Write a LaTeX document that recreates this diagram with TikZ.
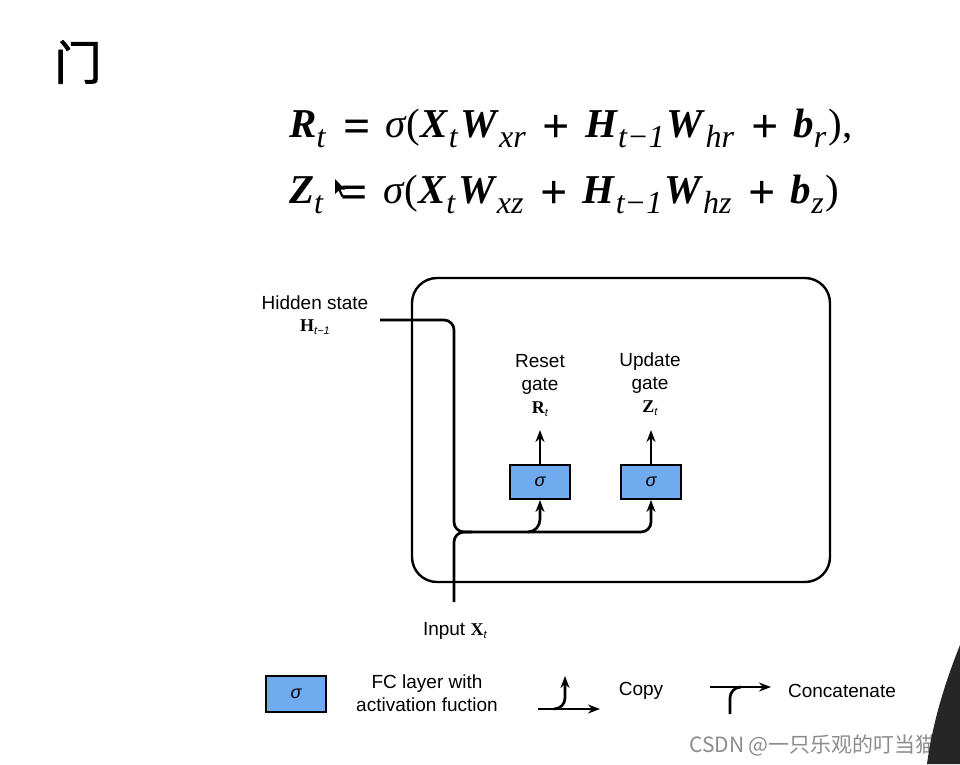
\documentclass[tikz,border=0pt]{standalone}
\usepackage{fontspec}
\setmainfont{Liberation Sans}
\newfontfamily\serif{Liberation Serif}
\newfontfamily\cjk{Noto Sans CJK SC}
\newfontfamily\cjkb[FakeBold=1.6]{Noto Sans CJK SC}
\usetikzlibrary{arrows.meta}
\definecolor{gateblue}{HTML}{70ABEF}
\newcommand\bv[1]{\textbf{\textit{#1}}}
\newcommand\sbs[1]{\raisebox{-10pt}{\fontsize{32}{32}\selectfont\textit{#1}}\hspace{2pt}}
\newcommand\op[1]{\hspace{15pt}\raisebox{-5pt}{\fontsize{48}{48}\selectfont\textbf{#1}}\hspace{15pt}}
\newcommand\dsub[1]{\raisebox{-3pt}{\fontsize{11}{11}\selectfont\textit{#1}}}
\begin{document}
\begin{tikzpicture}[x=1pt,y=-1pt,
  wire/.style={line width=2.7pt,rounded corners=10pt},
  tip/.style={-{Stealth[length=12pt,width=9pt]}},
  gatebox/.style={draw,line width=2pt,fill=gateblue,minimum width=60pt,minimum height=34pt,inner sep=0pt,font=\fontsize{18}{18}\selectfont\itshape},
  lbl/.style={font=\fontsize{19}{23}\selectfont,align=center,inner sep=0pt},
  eq/.style={anchor=base west,inner sep=0pt,font=\serif\fontsize{41}{41}\selectfont}]
\useasboundingbox (0,0) rectangle (960,764);
\fill[white] (0,0) rectangle (960,764);

% title
\node[font=\cjkb\fontsize{47}{47}\selectfont] (title) at (78,62) {门};

% equations
\node[eq] (eq1) at (289,137) {\bv{R}\sbs{t}\op{=}\textit{σ}(\bv{X}\sbs{t}\bv{W}\sbs{xr}\op{+}\bv{H}\sbs{t−1}\bv{W}\sbs{hr}\op{+}\bv{b}\sbs{r}),};
\node[eq] (eq2) at (289,203) {\bv{Z}\sbs{t}\op{=}\textit{σ}(\bv{X}\sbs{t}\bv{W}\sbs{xz}\op{+}\bv{H}\sbs{t−1}\bv{W}\sbs{hz}\op{+}\bv{b}\sbs{z})};
% mouse cursor
\fill[black] (335,179) -- (335,194) -- (338.5,190.5) -- (341.5,197) -- (343.5,196) -- (340.5,189.5) -- (345,189.5) -- cycle;

% outer cell
\draw[line width=2.4pt,rounded corners=25pt] (412,278) rectangle (830,582);

% gates
\node[gatebox] (reset) at (540,482) {σ};
\node[gatebox] (update) at (651,482) {σ};

% labels
\node[lbl] (hid) at (315,315) {Hidden state\\[-1pt]{\serif\bfseries\fontsize{18}{18}\selectfont H}\dsub{t−1}};
\node[lbl] (rlab) at (540,386) {Reset\\gate\\{\serif\bfseries\fontsize{18}{18}\selectfont R}\dsub{t}};
\node[lbl] (zlab) at (650,384) {Update\\gate\\{\serif\bfseries\fontsize{18}{18}\selectfont Z}\dsub{t}};
\node[lbl,anchor=base] (inlab) at (455,635) {Input {\serif\bfseries\fontsize{18}{18}\selectfont X}\dsub{t}};

\coordinate (hstart) at (380,320);
\coordinate (instart) at (454,602);
\coordinate (rtop) at (540,430);
\coordinate (ztop) at (651,430);

% wires
\draw[wire,tip] (hstart) -- (454,320) -- (454,532) -- (651,532) -- (update.south);
\draw[wire] (instart) -- (454,532) -- (472,532);
\draw[line width=2.7pt,tip] (528,532) to[out=0,in=-90] (540,519) -- (reset.south);
\draw[line width=2.7pt,tip] (reset.north) -- (rtop);
\draw[line width=2.7pt,tip] (update.north) -- (ztop);

% legend
\node[gatebox,minimum width=60pt,minimum height=36pt] (lg) at (296,694) {σ};
\node[lbl] (lgt) at (427,693) {FC layer with\\activation fuction};
\coordinate (c1) at (538,709);
\coordinate (c2) at (600,709);
\coordinate (c3) at (565,676);
\draw[line width=2.7pt,tip] (c1) -- (c2);
\draw[line width=2.7pt,tip] (554,709) to[out=0,in=-90] (565,698) -- (c3);
\node[lbl] (copy) at (641,691) {Copy};
\coordinate (k1) at (710,687);
\coordinate (k2) at (771,687);
\coordinate (k3) at (730,714);
\draw[line width=2.7pt,tip] (k1) -- (k2);
\draw[line width=2.7pt] (k3) -- (730,698) to[out=90,in=180] (741,687);
\node[lbl] (concat) at (842,691) {Concatenate};

% watermark
\node[font=\cjk\fontsize{21}{21}\selectfont,text=black!45] (wm) at (813,745) {CSDN @一只乐观的叮当猫};

% dark shoulder at edge
\fill[black!85] (960,645) .. controls (946,680) and (933,720) .. (927,764) -- (960,764) -- cycle;
\end{tikzpicture}
\end{document}
